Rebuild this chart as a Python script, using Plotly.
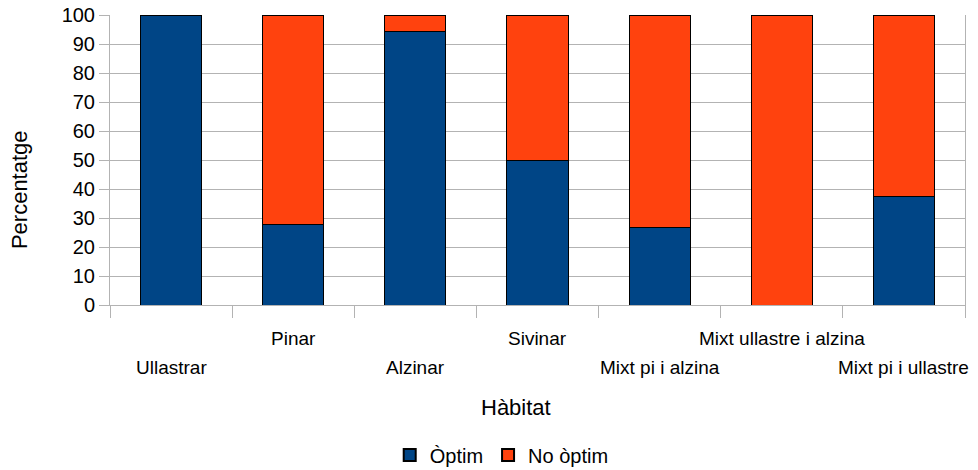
import plotly.graph_objects as go

categories = ["Ullastrar", "Pinar", "Alzinar", "Sivinar", "Mixt pi i alzina",
              "Mixt ullastre i alzina", "Mixt pi i ullastre"]
optim = [100, 27.8, 94.4, 50, 26.8, 0, 37.5]
no_optim = [0, 72.2, 5.6, 50, 73.2, 100, 62.5]
series_names = ["Òptim", "No òptim"]
y_ticks = list(range(0, 101, 10))

BLUE = "#004586"
ORANGE = "#FF420E"
GRID = "#b3b3b3"
FONT = "Liberation Sans, Arial, sans-serif"

xs = list(range(len(categories)))

fig = go.Figure()
fig.add_trace(go.Bar(x=xs, y=optim, name=series_names[0], width=0.5,
                     marker=dict(color=BLUE, line=dict(color="black", width=1))))
fig.add_trace(go.Bar(x=xs, y=no_optim, name=series_names[1], width=0.5,
                     marker=dict(color=ORANGE, line=dict(color="black", width=1))))

for i, c in enumerate(categories):
    fig.add_annotation(x=i, xref="x", y=(-0.117 if i % 2 else -0.214), yref="paper",
                       text=c, showarrow=False, yanchor="middle",
                       font=dict(size=19, color="#000000", family=FONT))

fig.add_annotation(x=0.475, xref="paper", y=-0.355, yref="paper", text="Hàbitat",
                   showarrow=False, yanchor="middle",
                   font=dict(size=22, color="#000000", family=FONT))
fig.add_annotation(x=-0.105, xref="paper", y=0.397, yref="paper", text="Percentatge",
                   showarrow=False, textangle=-90, xanchor="center", yanchor="middle",
                   font=dict(size=22, color="#000000", family=FONT))

fig.update_layout(
    barmode="stack",
    width=978, height=470,
    margin=dict(l=110, r=13, t=15, b=165, autoexpand=False),
    paper_bgcolor="white", plot_bgcolor="white",
    font=dict(family=FONT, size=19, color="#000000"),
    showlegend=True,
    legend=dict(orientation="h", x=0.513, xref="container", xanchor="center",
                y=0.032, yref="container", yanchor="middle",
                font=dict(size=20, family=FONT), itemsizing="constant",
                traceorder="normal"),
    xaxis=dict(range=[-0.5, len(categories) - 0.5],
               tickvals=[i - 0.5 for i in range(len(categories) + 1)],
               showticklabels=False, ticks="outside", ticklen=12, tickcolor=GRID,
               tickwidth=1, showgrid=False, showline=True, linecolor=GRID,
               zeroline=False, automargin=False),
    yaxis=dict(range=[0, 100], tickvals=y_ticks, ticks="outside", ticklen=10,
               tickcolor=GRID, showgrid=True, gridcolor=GRID, gridwidth=1,
               showline=True, linecolor=GRID, mirror=True, zeroline=False,
               automargin=False, ticklabeloverflow="allow",
               tickfont=dict(size=20, family=FONT, color="#000000")),
)

fig.write_html("out.html",
               config={"displayModeBar": False},
               post_script="document.body.style.margin='0';document.body.style.overflow='hidden';")
